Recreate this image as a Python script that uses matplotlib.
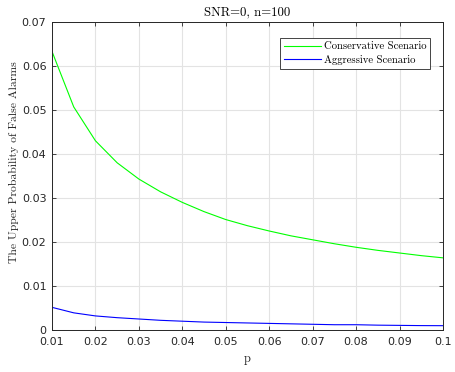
import numpy as np
import matplotlib
matplotlib.use("Agg")
import matplotlib.pyplot as plt

# data
p = [0.010, 0.015, 0.020, 0.025, 0.030, 0.035, 0.040, 0.045, 0.050, 0.055,
     0.060, 0.065, 0.070, 0.075, 0.080, 0.085, 0.090, 0.095, 0.100]
conservative = [0.0633, 0.0507, 0.0430, 0.0380, 0.0343, 0.0314, 0.0290, 0.0269,
                0.0251, 0.0237, 0.0225, 0.0214, 0.0205, 0.0196, 0.0188, 0.0181,
                0.0175, 0.0169, 0.0164]
aggressive = [0.00515, 0.0039, 0.0032, 0.0028, 0.0025, 0.0022, 0.0020, 0.0018,
              0.0017, 0.0016, 0.0015, 0.0014, 0.0013, 0.0012, 0.0012, 0.0011,
              0.00105, 0.0010, 0.00098]
xticks = [0.01, 0.02, 0.03, 0.04, 0.05, 0.06, 0.07, 0.08, 0.09, 0.1]
xticklabels = ["0.01", "0.02", "0.03", "0.04", "0.05", "0.06", "0.07", "0.08", "0.09", "0.1"]
yticks = [0, 0.01, 0.02, 0.03, 0.04, 0.05, 0.06, 0.07]
yticklabels = ["0", "0.01", "0.02", "0.03", "0.04", "0.05", "0.06", "0.07"]

serif = "cmr10"
tickcol = "#262626"

fig = plt.figure(figsize=(4.55, 3.72), dpi=100)
ax = fig.add_axes([0.1143, 0.1129, 0.9736 - 0.1143, 0.9409 - 0.1129])

ax.plot(p, conservative, color="#00ff00", lw=0.8, label="Conservative Scenario")
ax.plot(p, aggressive, color="#0000ff", lw=0.8, label="Aggressive Scenario")

ax.set_xlim(0.01, 0.1)
ax.set_ylim(0, 0.07)
ax.set_xticks(xticks)
ax.set_xticklabels(xticklabels)
ax.set_yticks(yticks)
ax.set_yticklabels(yticklabels)
ax.grid(True, color="#e3e3e3", lw=0.8)
ax.set_axisbelow(True)
ax.tick_params(direction="in", top=True, right=True, length=3, width=0.6,
               labelsize=8, colors=tickcol, labelcolor=tickcol)
ax.tick_params(axis="x", pad=5)
ax.tick_params(axis="y", pad=4)
for s in ax.spines.values():
    s.set_color(tickcol)
    s.set_linewidth(0.7)

ax.set_title("SNR=0, n=100", fontsize=9.2, family=serif, color="black", pad=5)
ax.set_xlabel("p", fontsize=9, family=serif, labelpad=4, color=tickcol)
ax.set_ylabel("The Upper Probability of False Alarms", fontsize=8.4, family=serif,
              labelpad=3, color=tickcol)
ax.yaxis.set_label_coords(-0.085, 0.545)

leg = ax.legend(loc="upper right", bbox_to_anchor=(0.9668, 0.948),
                prop={"family": serif, "size": 7.7},
                fancybox=False, edgecolor="#262626", framealpha=1,
                handlelength=3.4, handletextpad=0.3, borderpad=0.35,
                labelspacing=0.35, borderaxespad=0)
leg.get_frame().set_linewidth(0.6)

fig.savefig("out.png", dpi=100)
